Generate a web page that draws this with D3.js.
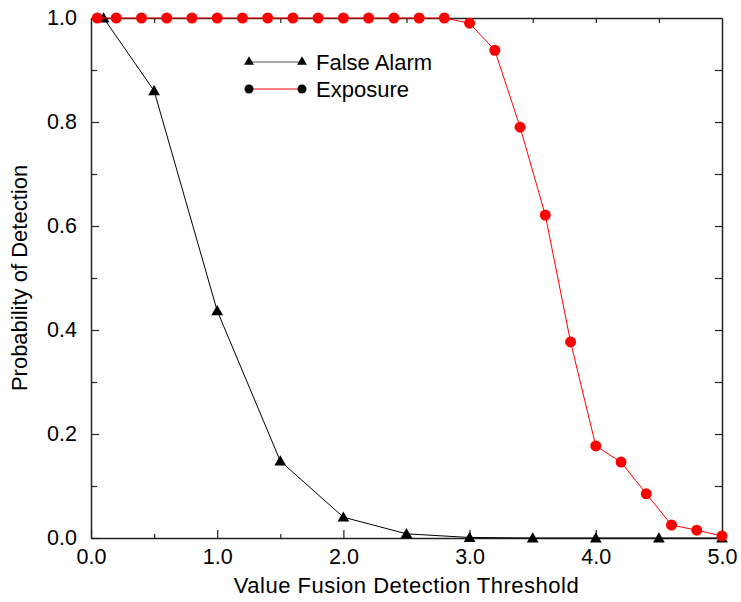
<!DOCTYPE html>
<html>
<head>
<meta charset="utf-8">
<script src="https://cdn.jsdelivr.net/npm/d3@7"></script>
<style>
  body { margin: 0; background: #fff; }
  text { font-family: "Liberation Sans", Arial, sans-serif; fill: #000; }
</style>
</head>
<body>
<div id="chart"></div>
<script>
// data
var falseAlarmX = [0.1, 0.5, 1.0, 1.5, 2.0, 2.5, 3.0, 3.5, 4.0, 4.5, 5.0];
var falseAlarmY = [1.0, 0.86, 0.437, 0.148, 0.04, 0.008, 0.001, 0, 0, 0, 0];

var exposureX = [0.05, 0.2, 0.4, 0.6, 0.8, 1.0, 1.2, 1.4, 1.6, 1.8, 2.0, 2.2, 2.4, 2.6, 2.8,
                 3.0, 3.2, 3.4, 3.6, 3.8, 4.0, 4.2, 4.4, 4.6, 4.8, 5.0];
var exposureY = [1, 1, 1, 1, 1, 1, 1, 1, 1, 1, 1, 1, 1, 1, 1,
                 0.99, 0.938, 0.79, 0.621, 0.377, 0.177, 0.146, 0.085, 0.025, 0.015, 0.004];

var xTicks = [0, 1, 2, 3, 4, 5];
var yTicks = [0, 0.2, 0.4, 0.6, 0.8, 1.0];
var seriesNames = ["False Alarm", "Exposure"];

// set the dimensions and margins of the graph
var margin = { top: 18, right: 19, bottom: 64, left: 91 },
    width = 741 - margin.left - margin.right,
    height = 602 - margin.top - margin.bottom;

var svg = d3.select("#chart")
  .append("svg")
    .attr("width", 741)
    .attr("height", 602)
  .append("g")
    .attr("transform", "translate(" + margin.left + "," + margin.top + ")");

var x = d3.scaleLinear().domain([0, 5]).range([0, width]);
var y = d3.scaleLinear().domain([0, 1]).range([height, 0]);

var fmt = d3.format(".1f");
var axisColor = "#222";

// bottom axis: major ticks with labels, minor at 0.5
var xAxis = svg.append("g")
  .attr("transform", "translate(0," + height + ")")
  .call(d3.axisBottom(x).tickValues(xTicks).tickFormat(fmt).tickSizeInner(-8).tickSizeOuter(0));
xAxis.selectAll("text")
  .attr("y", 26)
  .attr("dy", null)
  .style("font-size", "21.5px");
svg.append("g")
  .attr("transform", "translate(0," + height + ")")
  .call(d3.axisBottom(x).tickValues(d3.range(0.5, 5, 1)).tickFormat("").tickSizeInner(-4).tickSizeOuter(0))
  .select(".domain").remove();

// left axis
var yAxis = svg.append("g")
  .call(d3.axisLeft(y).tickValues(yTicks).tickFormat(fmt).tickSizeInner(-8).tickSizeOuter(0).tickPadding(14));
yAxis.selectAll("text").style("font-size", "21.5px");
svg.append("g")
  .call(d3.axisLeft(y).tickValues(d3.range(0.1, 1, 0.2)).tickFormat("").tickSizeInner(-6).tickSizeOuter(0))
  .select(".domain").remove();

// top and right frame with inward ticks
svg.append("g")
  .call(d3.axisTop(x).tickValues(d3.range(0.5, 5, 0.5)).tickFormat("").tickSizeInner(-5).tickSizeOuter(0));
svg.append("g")
  .attr("transform", "translate(" + width + ",0)")
  .call(d3.axisRight(y).tickValues(d3.range(0.1, 1, 0.1)).tickFormat("").tickSizeInner(-7).tickSizeOuter(0));

svg.selectAll(".domain").attr("stroke", axisColor).attr("stroke-width", 1.5);
svg.selectAll(".tick line").attr("stroke", axisColor).attr("stroke-width", 1.2);

// axis titles
svg.append("text")
  .attr("x", width / 2)
  .attr("y", height + 55)
  .attr("text-anchor", "middle")
  .style("font-size", "22px")
  .style("letter-spacing", "0.5px")
  .text("Value Fusion Detection Threshold");

svg.append("text")
  .attr("transform", "translate(" + (27 - margin.left) + "," + (height / 2) + ") rotate(-90)")
  .attr("text-anchor", "middle")
  .style("font-size", "22px")
  .text("Probability of Detection");

var falseAlarm = falseAlarmX.map(function(d, i) { return { x: d, y: falseAlarmY[i] }; });
var exposure = exposureX.map(function(d, i) { return { x: d, y: exposureY[i] }; });

var line = d3.line()
  .x(function(d) { return x(d.x); })
  .y(function(d) { return y(d.y); });

var triangle = d3.symbol().type(d3.symbolTriangle).size(60);
var triangleSmall = d3.symbol().type(d3.symbolTriangle).size(42);

// false alarm series
svg.append("path")
  .datum(falseAlarm)
  .attr("fill", "none")
  .attr("stroke", "#000")
  .attr("stroke-width", 1)
  .attr("d", line);

svg.selectAll(".tri")
  .data(falseAlarm)
  .enter()
  .append("path")
  .attr("class", "tri")
  .attr("d", triangle)
  .attr("fill", "#000")
  .attr("transform", function(d) { return "translate(" + x(d.x) + "," + (y(d.y) + 1) + ")"; });

// exposure series
svg.append("path")
  .datum(exposure)
  .attr("fill", "none")
  .attr("stroke", "#ff0000")
  .attr("stroke-width", 1)
  .attr("d", line);

svg.selectAll(".dot")
  .data(exposure)
  .enter()
  .append("circle")
  .attr("class", "dot")
  .attr("cx", function(d) { return x(d.x); })
  .attr("cy", function(d) { return y(d.y); })
  .attr("r", 5.5)
  .attr("fill", "#ff0000");

// legend
var legend = svg.append("g")
  .attr("transform", "translate(" + (249 - margin.left) + "," + (62 - margin.top) + ")");

legend.append("line")
  .attr("x1", 0).attr("x2", 53).attr("y1", 0).attr("y2", 0)
  .attr("stroke", "#555").attr("stroke-width", 1);
[0, 53].forEach(function(px) {
  legend.append("path")
    .attr("d", triangleSmall)
    .attr("fill", "#000")
    .attr("transform", "translate(" + px + ",0)");
});

legend.append("line")
  .attr("x1", 0).attr("x2", 53).attr("y1", 27).attr("y2", 27)
  .attr("stroke", "#ff0000").attr("stroke-width", 1);
[0, 53].forEach(function(px) {
  legend.append("circle")
    .attr("cx", px).attr("cy", 27).attr("r", 4.5)
    .attr("fill", "#000");
});

legend.selectAll(".ltext")
  .data(seriesNames)
  .enter()
  .append("text")
  .attr("class", "ltext")
  .attr("x", 67)
  .attr("y", function(d, i) { return i * 27 + 8; })
  .style("font-size", "22px")
  .text(function(d) { return d; });
</script>
</body>
</html>
